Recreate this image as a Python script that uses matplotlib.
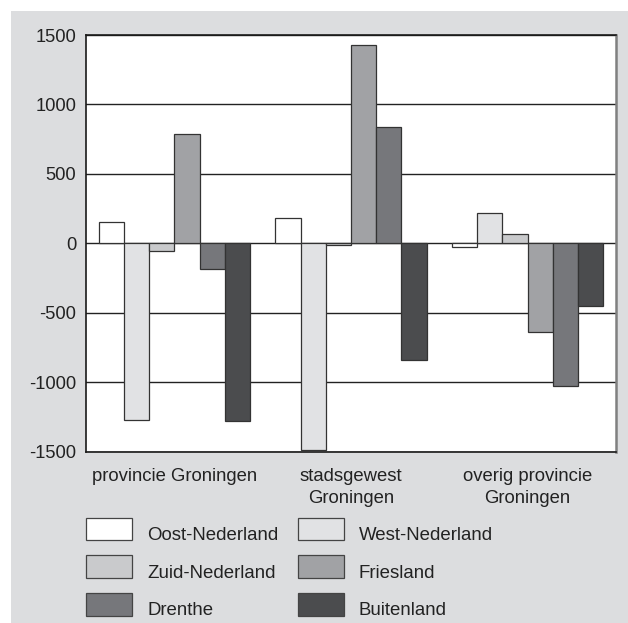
import matplotlib
matplotlib.use("Agg")
import matplotlib.pyplot as plt
from matplotlib.patches import Rectangle
import numpy as np

plt.rcParams['font.family'] = ['Liberation Sans', 'DejaVu Sans']

categories = ["provincie Groningen", "stadsgewest\nGroningen", "overig provincie\nGroningen"]
series_names = ["Oost-Nederland", "West-Nederland", "Zuid-Nederland",
                "Friesland", "Drenthe", "Buitenland"]
oost = [150, 180, -30]
west = [-1270, -1490, 220]
zuid = [-55, -15, 70]
friesland = [785, 1430, -640]
drenthe = [-185, 840, -1030]
buitenland = [-1280, -840, -450]
yticks = [-1500, -1000, -500, 0, 500, 1000, 1500]

series_values = [oost, west, zuid, friesland, drenthe, buitenland]
colors = ["#ffffff", "#e1e2e4", "#c9cacc", "#a1a2a5", "#76777b", "#4b4c4e"]
bg = "#dcdddf"

W, H = 628, 623
fig = plt.figure(figsize=(W / 100, H / 100), dpi=100)
fig.patch.set_facecolor("white")
fig.add_artist(Rectangle((11 / W, 0), 1 - 11 / W, (H - 11) / H,
                         transform=fig.transFigure, facecolor=bg,
                         edgecolor="none", zorder=-10))

ax = fig.add_axes([86 / W, (H - 451.5) / H, 530 / W, 416.5 / H])
ax.set_facecolor("white")
ax.set_axisbelow(True)

x = np.arange(len(categories))
w = 1 / 7
for i, (vals, c) in enumerate(zip(series_values, colors)):
    ax.bar(x + (i - 2.5) * w, vals, width=w, color=c, edgecolor="#333333",
           linewidth=0.9, zorder=3)

ax.set_xlim(-0.5, 2.5)
ax.set_ylim(-1500, 1500)
ax.set_yticks(yticks)
ax.set_yticklabels([str(t) for t in yticks], fontsize=13.2, color="#222222")
ax.yaxis.grid(True, color="#222222", linewidth=1.0)
ax.tick_params(axis="y", length=0, pad=7)
ax.set_xticks(x)
ax.set_xticklabels(categories, fontsize=13.3, color="#222222", linespacing=1.38)
ax.tick_params(axis="x", length=0, pad=12)

for s in ["left", "top", "bottom"]:
    ax.spines[s].set_color("#1a1a1a")
    ax.spines[s].set_linewidth(1.2)
ax.spines["right"].set_color("#808080")
ax.spines["right"].set_linewidth(1.8)

# legend, 2 columns filled row-wise
col_x = [86, 297.5]
text_x = [147.5, 359]
row_top = [517.7, 555.3, 593.3]
baselines = [540.5, 577.8, 615.0]
for i, (name, c) in enumerate(zip(series_names, colors)):
    r, col = i // 2, i % 2
    fig.add_artist(Rectangle((col_x[col] / W, (H - row_top[r] - 22.6) / H),
                             46.3 / W, 22.6 / H, transform=fig.transFigure,
                             facecolor=c, edgecolor="#444444", linewidth=0.9))
    fig.text(text_x[col] / W, (H - baselines[r]) / H, name, fontsize=13.4,
             color="#222222", ha="left", va="baseline")

fig.savefig("out.png", dpi=100)
